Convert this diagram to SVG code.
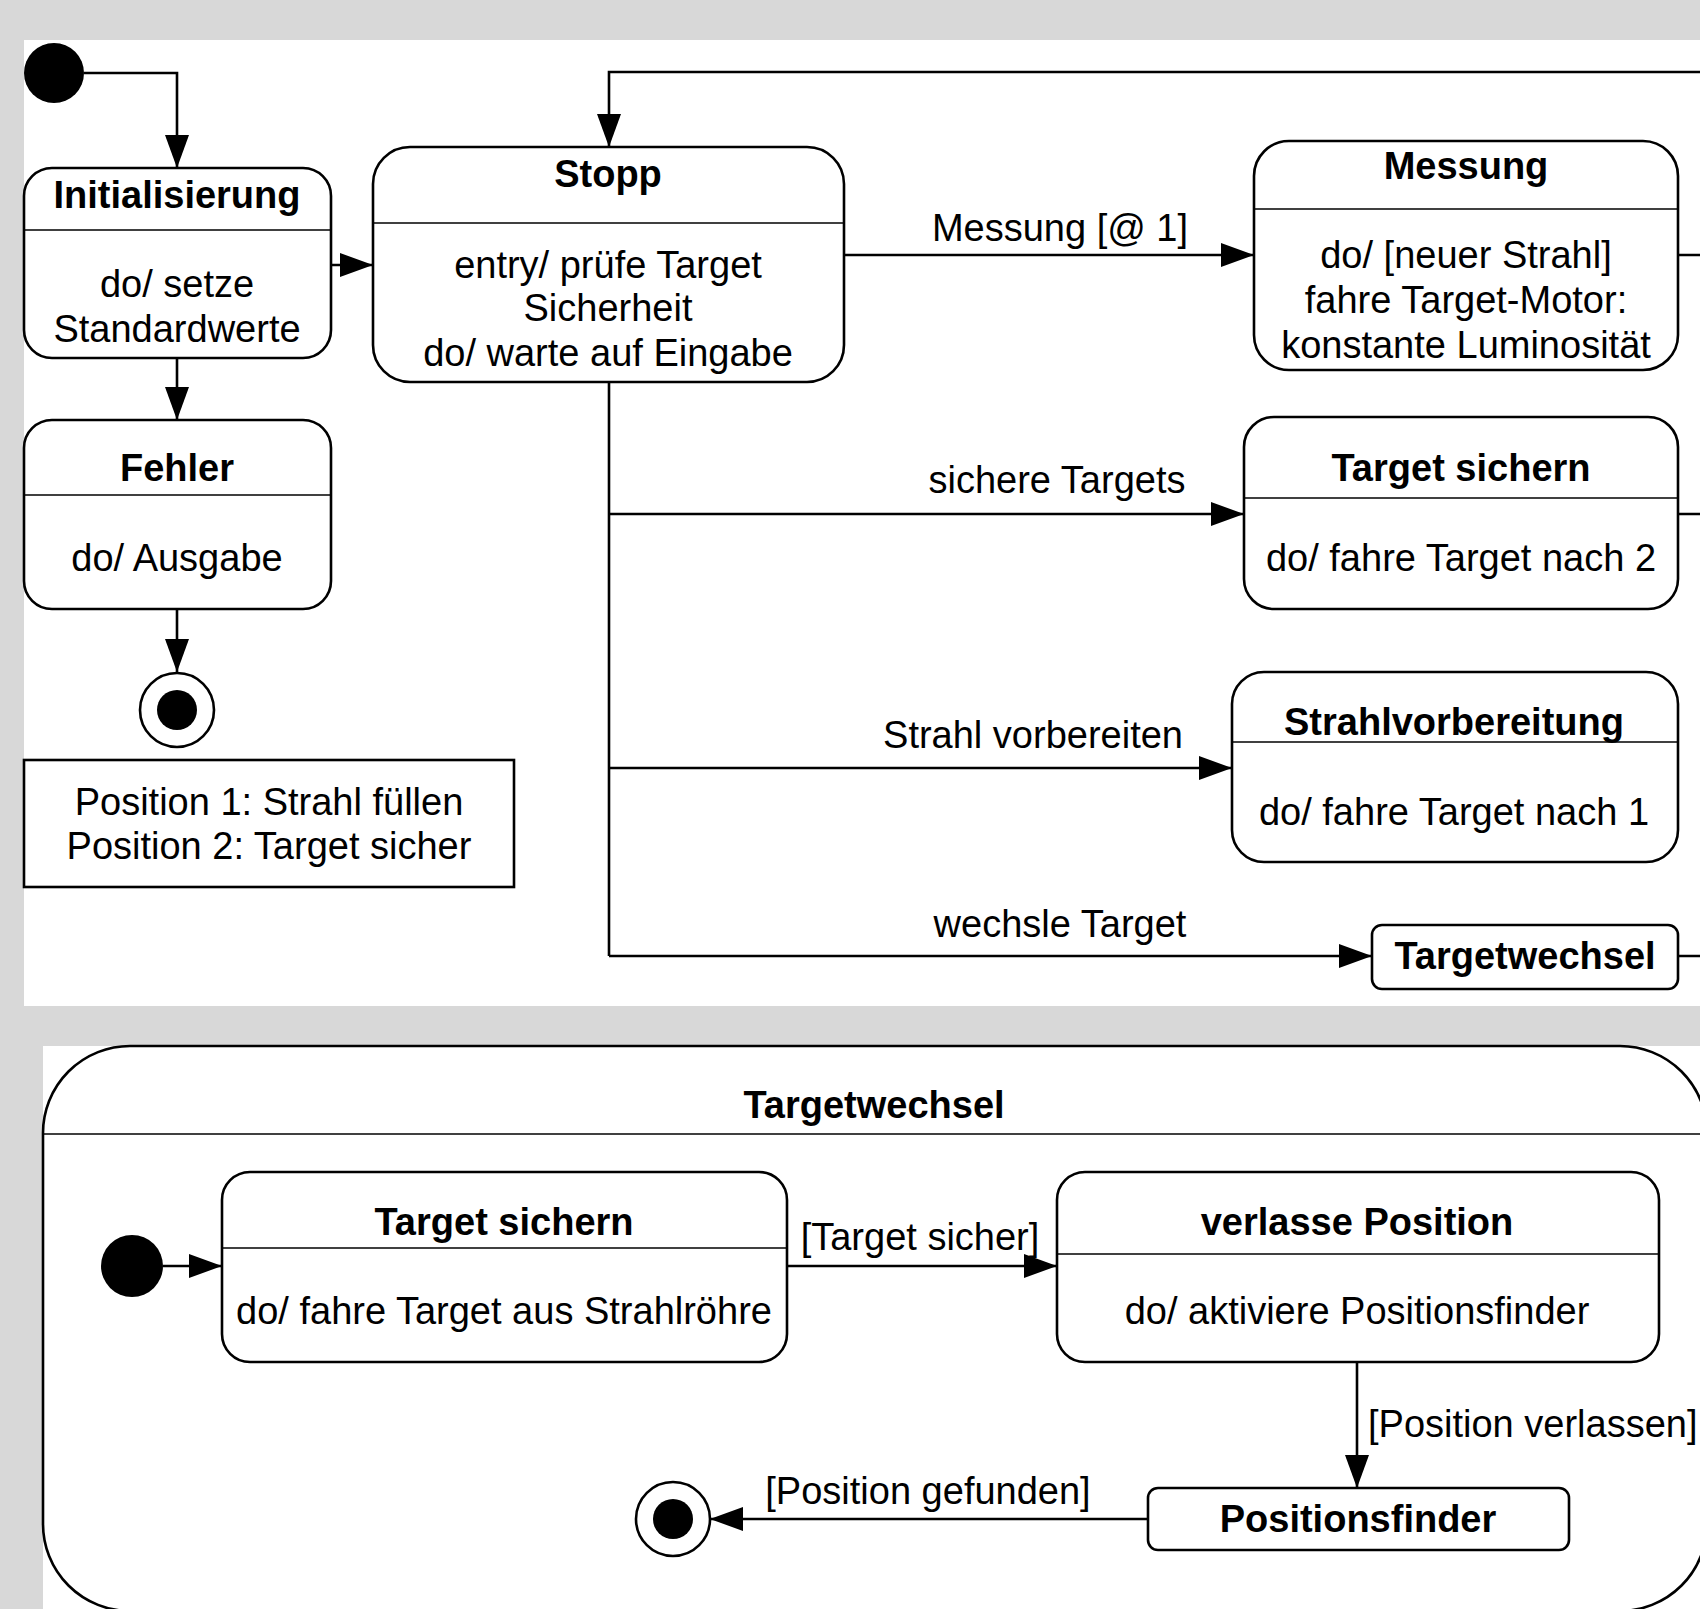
<svg xmlns="http://www.w3.org/2000/svg" width="1700" height="1609" viewBox="0 0 1700 1609">
<defs>
<marker id="arr" markerUnits="userSpaceOnUse" markerWidth="34" markerHeight="24" refX="33" refY="12" orient="auto">
<path d="M0,0 L33,12 L0,24 z" fill="#000"/>
</marker>
<style>
.box{fill:#fff;stroke:#000;stroke-width:2.6}
.div{stroke:#000;stroke-width:1.4}
.c{fill:none;stroke:#000;stroke-width:2.6}
.ca{fill:none;stroke:#000;stroke-width:2.6;marker-end:url(#arr)}
text{font-family:"Liberation Sans",Arial,sans-serif;font-size:38px;fill:#000;dominant-baseline:central}
.t{font-weight:bold;text-anchor:middle}
.b{text-anchor:middle}
.lbl{text-anchor:middle}
</style>
</defs>
<rect x="0" y="0" width="1700" height="1609" fill="#d8d8d8"/>
<rect x="24" y="40" width="1690" height="966" fill="#fff"/>
<rect x="43" y="1046" width="1670" height="570" fill="#fff"/>

<g id="targetwechsel-composite">
<rect class="box" x="43" y="1046" width="1664" height="565" rx="87"/>
<line class="div" x1="43" y1="1134" x2="1707" y2="1134"/>
<text class="t" x="874" y="1105">Targetwechsel</text>
</g>

<g id="initial">
<circle cx="54" cy="73" r="30" fill="#000"/>
</g>

<g id="initialisierung">
<rect class="box" x="24" y="168" width="307" height="190" rx="28"/>
<line class="div" x1="24" y1="230" x2="331" y2="230"/>
<text class="t" x="177" y="195">Initialisierung</text>
<text class="b" x="177" y="284">do/ setze</text>
<text class="b" x="177" y="329">Standardwerte</text>
</g>

<g id="fehler">
<rect class="box" x="24" y="420" width="307" height="189" rx="28"/>
<line class="div" x1="24" y1="495" x2="331" y2="495"/>
<text class="t" x="177" y="468">Fehler</text>
<text class="b" x="177" y="558">do/ Ausgabe</text>
</g>

<g id="final1">
<circle cx="177" cy="710" r="37" fill="#fff" stroke="#000" stroke-width="2.6"/>
<circle cx="177" cy="710" r="20" fill="#000"/>
</g>

<g id="note">
<rect x="24" y="760" width="490" height="127" fill="#fff" stroke="#000" stroke-width="2.6"/>
<text class="b" x="269" y="802">Position 1: Strahl füllen</text>
<text class="b" x="269" y="846">Position 2: Target sicher</text>
</g>

<g id="stopp">
<rect class="box" x="373" y="147" width="471" height="235" rx="37"/>
<line class="div" x1="373" y1="223" x2="844" y2="223"/>
<text class="t" x="608" y="174">Stopp</text>
<text class="b" x="608" y="265">entry/ prüfe Target</text>
<text class="b" x="608" y="308">Sicherheit</text>
<text class="b" x="608" y="353">do/ warte auf Eingabe</text>
</g>

<g id="messung">
<rect class="box" x="1254" y="141" width="424" height="229" rx="35"/>
<line class="div" x1="1254" y1="209" x2="1678" y2="209"/>
<text class="t" x="1466" y="166">Messung</text>
<text class="b" x="1466" y="255">do/ [neuer Strahl]</text>
<text class="b" x="1466" y="300">fahre Target-Motor:</text>
<text class="b" x="1466" y="345">konstante Luminosität</text>
</g>

<g id="target-sichern">
<rect class="box" x="1244" y="417" width="434" height="192" rx="30"/>
<line class="div" x1="1244" y1="498" x2="1678" y2="498"/>
<text class="t" x="1461" y="468">Target sichern</text>
<text class="b" x="1461" y="558">do/ fahre Target nach 2</text>
</g>

<g id="strahlvorbereitung">
<rect class="box" x="1232" y="672" width="446" height="190" rx="32"/>
<line class="div" x1="1232" y1="742" x2="1678" y2="742"/>
<text class="t" x="1454" y="722">Strahlvorbereitung</text>
<text class="b" x="1454" y="812">do/ fahre Target nach 1</text>
</g>

<g id="targetwechsel">
<rect class="box" x="1372" y="925" width="306" height="64" rx="10"/>
<text class="t" x="1525" y="956">Targetwechsel</text>
</g>

<g id="initial2">
<circle cx="132" cy="1266" r="31" fill="#000"/>
</g>

<g id="target-sichern-2">
<rect class="box" x="222" y="1172" width="565" height="190" rx="28"/>
<line class="div" x1="222" y1="1248" x2="787" y2="1248"/>
<text class="t" x="504" y="1222">Target sichern</text>
<text class="b" x="504" y="1311">do/ fahre Target aus Strahlröhre</text>
</g>

<g id="verlasse-position">
<rect class="box" x="1057" y="1172" width="602" height="190" rx="28"/>
<line class="div" x1="1057" y1="1254" x2="1659" y2="1254"/>
<text class="t" x="1357" y="1222">verlasse Position</text>
<text class="b" x="1357" y="1311">do/ aktiviere Positionsfinder</text>
</g>

<g id="positionsfinder">
<rect class="box" x="1148" y="1488" width="421" height="62" rx="10"/>
<text class="t" x="1358" y="1519">Positionsfinder</text>
</g>

<g id="final2">
<circle cx="673" cy="1519" r="37" fill="#fff" stroke="#000" stroke-width="2.6"/>
<circle cx="673" cy="1519" r="20" fill="#000"/>
</g>

<g id="connectors">
<path class="ca" d="M84,73 H177 V168"/>
<path class="ca" d="M331,265 H373"/>
<path class="ca" d="M177,358 V420"/>
<path class="ca" d="M177,609 V672"/>
<path class="ca" d="M1712,72 H609 V147"/>
<path class="ca" d="M844,255 H1254"/>
<path class="c" d="M1678,255 H1712"/>
<path class="c" d="M609,382 V956"/>
<path class="ca" d="M609,514 H1244"/>
<path class="c" d="M1678,514 H1712"/>
<path class="ca" d="M609,768 H1232"/>
<path class="ca" d="M609,956 H1372"/>
<path class="c" d="M1678,956 H1712"/>
<text class="lbl" x="1060" y="228">Messung [@ 1]</text>
<text class="lbl" x="1057" y="480">sichere Targets</text>
<text class="lbl" x="1033" y="735">Strahl vorbereiten</text>
<text class="lbl" x="1060" y="924">wechsle Target</text>
<path class="ca" d="M163,1266 H222"/>
<path class="ca" d="M787,1266 H1057"/>
<path class="ca" d="M1357,1362 V1488"/>
<path class="ca" d="M1148,1519 H710"/>
<text class="lbl" x="920" y="1237">[Target sicher]</text>
<text x="1368" y="1424">[Position verlassen]</text>
<text class="lbl" x="928" y="1491">[Position gefunden]</text>
</g>
</svg>
